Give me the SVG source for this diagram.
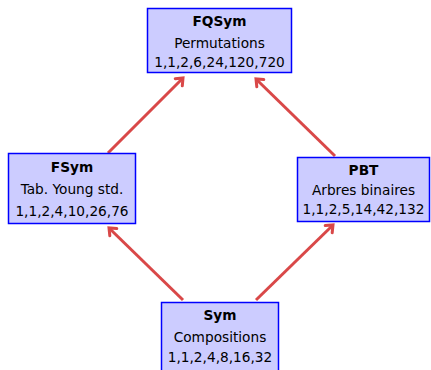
<svg xmlns="http://www.w3.org/2000/svg" width="431" height="370" viewBox="0 0 431 370">
<style>
.box{fill:#ccccff;stroke:#0000ff;stroke-width:1.5}
text{font-family:"DejaVu Sans","Liberation Sans",sans-serif;font-size:13.7px;fill:#000;text-anchor:middle}
.t{font-weight:bold}
.arr{stroke:#d94848;stroke-width:3;fill:none;marker-end:url(#ah)}
</style>
<defs>
<marker id="ah" markerWidth="8" markerHeight="8" refX="5" refY="4" orient="auto" markerUnits="userSpaceOnUse" viewBox="0 0 8 8" overflow="visible">
<path d="M-1,-1 L5,4 L-1,9" fill="none" stroke="#d94848" stroke-width="3" stroke-linejoin="miter" stroke-linecap="round"/>
</marker>
</defs>
<rect width="431" height="370" fill="#fff"/>
<g id="connectors">
<line class="arr" x1="108" y1="153" x2="183" y2="78"/>
<line class="arr" x1="335" y1="156" x2="256" y2="79"/>
<line class="arr" x1="183" y1="300" x2="109" y2="228"/>
<line class="arr" x1="256" y1="300" x2="333" y2="225"/>
</g>
<g id="FQSym">
<rect class="box" x="147.5" y="8.5" width="144" height="64"/>
<text class="t" x="219.5" y="26">FQSym</text>
<text x="219.5" y="48">Permutations</text>
<text x="219.5" y="67">1,1,2,6,24,120,720</text>
</g>
<g id="FSym">
<rect class="box" x="8.5" y="153.5" width="127" height="70"/>
<text class="t" x="72" y="172">FSym</text>
<text x="72" y="194">Tab. Young std.</text>
<text x="72" y="216">1,1,2,4,10,26,76</text>
</g>
<g id="PBT">
<rect class="box" x="297.5" y="157.5" width="132" height="64"/>
<text class="t" x="363.5" y="175">PBT</text>
<text x="363.5" y="195">Arbres binaires</text>
<text x="363.5" y="214">1,1,2,5,14,42,132</text>
</g>
<g id="Sym">
<rect class="box" x="161.5" y="302.5" width="117" height="70"/>
<text class="t" x="220" y="320">Sym</text>
<text x="220" y="342">Compositions</text>
<text x="220" y="362">1,1,2,4,8,16,32</text>
</g>
</svg>
